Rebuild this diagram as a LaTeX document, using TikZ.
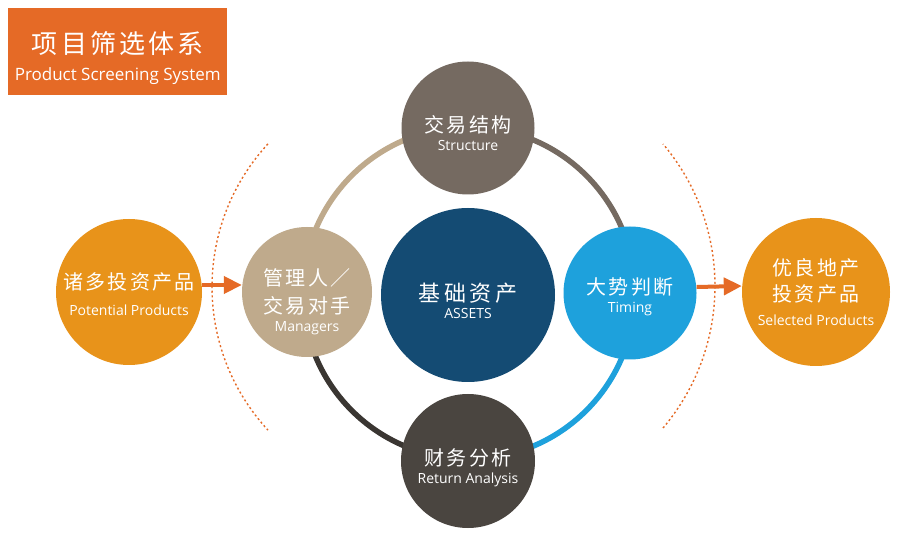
\documentclass[tikz,border=0pt]{standalone}
\usepackage{fontspec}
\setmainfont{Open Sans}
\newfontfamily\cjk[LetterSpace=12]{Noto Sans CJK SC}
\newfontfamily\cjkwide[LetterSpace=17]{Noto Sans CJK SC}
\usetikzlibrary{arrows.meta}
\usetikzlibrary{positioning}

\definecolor{titleorange}{HTML}{E56A26}
\definecolor{goldorange}{HTML}{E8931A}
\definecolor{mgrtan}{HTML}{BFAA8C}
\definecolor{topbrown}{HTML}{756A61}
\definecolor{assetnavy}{HTML}{144B73}
\definecolor{timeblue}{HTML}{1EA1DC}
\definecolor{botgray}{HTML}{4A4540}
\definecolor{ringdark}{HTML}{3A3632}

\newcommand{\entxt}[1]{{\rmfamily\fontsize{14}{14}\selectfont #1}}

\begin{document}
\begin{tikzpicture}[
    x=1pt, y=1pt,
    ball/.style={circle, inner sep=0pt, minimum size=#1},
    lbl/.style={text=white, align=center, inner sep=0pt, anchor=north},
    ringseg/.style={line width=5.5pt},
    guide/.style={draw=titleorange, line width=1.4pt, dash pattern=on 2pt off 2.6pt},
    arr/.style={draw=titleorange, line width=4pt, -{Triangle[length=18pt,width=17pt]}},
]
    \fill[white] (0,0) rectangle (900,544);
    \useasboundingbox (0,0) rectangle (900,544);

    % title box
    \node (title) at(8,449) [
        rectangle, anchor=south west, inner sep=0pt,
        minimum width=219pt, minimum height=87pt,
        fill=titleorange,
    ] {};
    \node (title-text) at([yshift=19.5pt]title.center) [
        lbl, font=\cjk\fontsize{26}{27}\selectfont,
    ] {项目筛选体系\\{\rmfamily\fontsize{17}{17}\selectfont Product Screening System}};

    \coordinate (ring) at(469,251);
    \coordinate (guidel) at(423,257);
    \coordinate (guider) at(495,258);

    % dashed guides
    \draw[guide] ([shift={(137.3:211)}]guidel) arc[start angle=137.3, end angle=222.7, radius=211];
    \draw[guide] ([shift={(-40.2:220)}]guider) arc[start angle=-40.2, end angle=40.2, radius=220];

    % ring
    \draw[ringseg, draw=mgrtan] ([shift={(180:166)}]ring) arc[start angle=180, end angle=90, radius=166];
    \draw[ringseg, draw=topbrown] ([shift={(90:166)}]ring) arc[start angle=90, end angle=0, radius=166];
    \draw[ringseg, draw=timeblue] ([shift={(0:166)}]ring) arc[start angle=0, end angle=-90, radius=166];
    \draw[ringseg, draw=ringdark] ([shift={(-90:166)}]ring) arc[start angle=-90, end angle=-180, radius=166];

    % circles
    \node (pot) at(129,252) [ball=146pt, fill=goldorange] {};
    \node (mgr) at(307,252) [ball=130pt, fill=mgrtan] {};
    \node (struct) at(468,416) [ball=133pt, fill=topbrown] {};
    \node (assets) at(468,249) [ball=174pt, fill=assetnavy] {};
    \node (timing) at(630,251) [ball=133pt, fill=timeblue] {};
    \node (ret) at(468,83) [ball=134pt, fill=botgray] {};
    \node (sel) at(816,252) [ball=148pt, fill=goldorange] {};

    % texts
    \node (pot-text) at([yshift=20pt]pot.center) [
        lbl, font=\cjk\fontsize{20}{26}\selectfont,
    ] {诸多投资产品\\\entxt{Potential Products}};
    \node (mgr-text) at([yshift=24pt]mgr.center) [
        lbl, font=\cjk\fontsize{20}{28}\selectfont,
    ] {管理人／\\交易对手\\[-10pt]\entxt{Managers}};
    \node (struct-text) at([yshift=13pt]struct.center) [
        lbl, font=\cjk\fontsize{20}{18.5}\selectfont,
    ] {交易结构\\\entxt{Structure}};
    \node (assets-text) at([yshift=12pt]assets.center) [
        lbl, font=\cjkwide\fontsize{22}{16.5}\selectfont,
    ] {基础资产\\\entxt{ASSETS}};
    \node (timing-text) at([yshift=16pt]timing.center) [
        lbl, font=\cjk\fontsize{20}{18}\selectfont,
    ] {大势判断\\\entxt{Timing}};
    \node (ret-text) at([yshift=13pt]ret.center) [
        lbl, font=\cjk\fontsize{20}{18}\selectfont,
    ] {财务分析\\\entxt{Return Analysis}};
    \node (sel-text) at([yshift=34pt]sel.center) [
        lbl, font=\cjk\fontsize{20}{26}\selectfont,
    ] {优良地产\\投资产品\\[-2pt]\entxt{Selected Products}};

    % arrows
    \draw[arr] ([yshift=7pt]pot.east) -- ([yshift=7pt]mgr.west);
    \draw[arr] ([yshift=6pt]timing.east) -- ([yshift=6pt]sel.west);
\end{tikzpicture}
\end{document}
